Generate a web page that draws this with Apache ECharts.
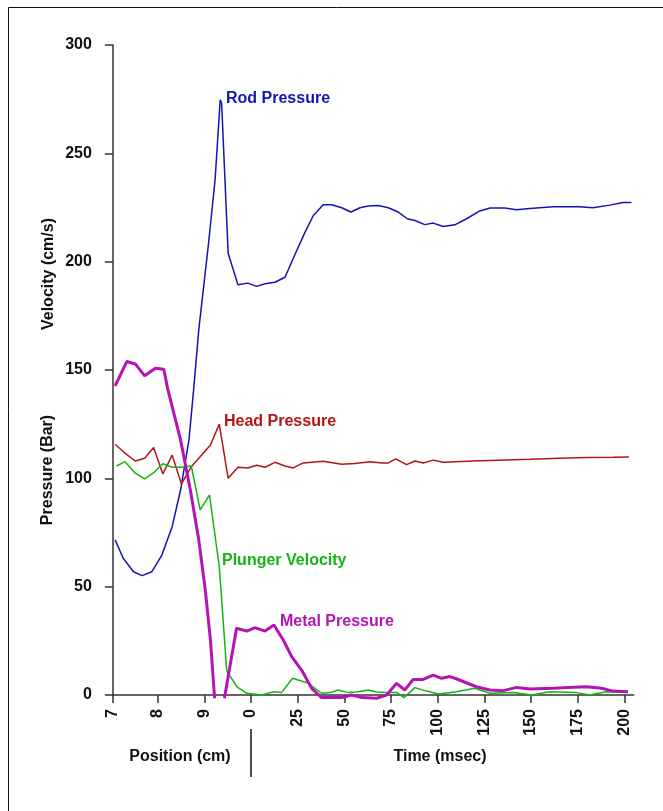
<!DOCTYPE html>
<html>
<head>
<meta charset="utf-8">
<script src="https://cdn.jsdelivr.net/npm/echarts@6/dist/echarts.min.js"></script>
<style>
html,body{margin:0;padding:0;background:#fff;}
#c{width:663px;height:811px;}
</style>
</head>
<body>
<div id="c"></div>
<script>
// ---- tick labels ----
const positionTicks = [7, 8, 9];                 // cm
const timeTicks = [0, 25, 50, 75, 100, 125, 150, 175, 200]; // msec
const yTicks = [0, 50, 100, 150, 200, 250, 300];

// ---- Rod Pressure ----
const rodPos   = [7.05, 7.23, 7.46, 7.65, 7.87, 8.09, 8.31, 8.49, 8.67, 8.77, 8.88, 9.09, 9.23, 9.34, 9.37, 9.51, 9.72, 9.93];
const rodPosV  = [71.6, 63.1, 56.9, 55.1, 56.9, 64.6, 77.7, 94.6, 117.7, 140.8, 168.5, 208.5, 237.8, 274.7, 273.2, 203.9, 189.3, 190.1];
const rodTime  = [3, 7.5, 12.8, 18.2, 23.6, 28.9, 33.4, 38.7, 43.2, 48.6, 53.5, 58.4, 62.8, 68.2, 73.5, 78.9, 83.7, 87.8, 93.1, 97.6, 102.9, 109.2, 115.5, 122.6, 128, 136, 142.3, 149.4, 161.8, 176.1, 183.2, 192.2, 199.3, 203.8];
const rodTimeV = [188.6, 189.8, 190.5, 192.8, 203.4, 213.5, 221.3, 226.3, 226.3, 224.9, 222.9, 224.9, 225.7, 225.9, 224.9, 222.9, 219.8, 219.0, 217.1, 217.8, 216.2, 217.0, 219.8, 223.4, 224.8, 224.8, 224.0, 224.5, 225.3, 225.3, 224.9, 226.1, 227.3, 227.3];

// ---- Head Pressure ----
const headPos   = [7.05, 7.27, 7.5, 7.71, 7.91, 8.11, 8.31, 8.51, 8.72, 8.91, 9.13, 9.32, 9.51, 9.72, 9.93];
const headPosV  = [115.7, 111.6, 108, 109.3, 114.2, 102, 110.7, 97.4, 105.4, 110, 115.4, 125, 100, 105.1, 104.8];
const headTime  = [3, 7.5, 12.8, 18.2, 22.6, 28, 38.7, 48.6, 55.7, 63.7, 70, 73.5, 77.5, 83.4, 87.8, 92.3, 97.6, 102.9, 119, 149.4, 165.4, 179.7, 193.9, 202.5];
const headTimeV = [106, 105.1, 107.4, 105.7, 104.8, 107.1, 107.9, 106.5, 106.8, 107.7, 107.1, 107.1, 109, 106.3, 108, 107.1, 108.4, 107.4, 108, 108.8, 109.3, 109.6, 109.7, 109.9];

// ---- Plunger Velocity ----
const plungerPos   = [7.08, 7.27, 7.5, 7.71, 7.91, 8.11, 8.31, 8.51, 8.72, 8.91, 9.11, 9.32, 9.48, 9.70, 9.91];
const plungerPosV  = [105.7, 107.7, 102.4, 99.7, 102.6, 106.7, 105.1, 105.1, 105.7, 85.4, 92.3, 59.2, 11.0, 3.8, 0.8];
const plungerTime  = [5.7, 12, 16.4, 22.3, 30.7, 37.8, 42.3, 46.7, 52.1, 56.6, 62.8, 67.3, 72.6, 78, 81.9, 87.8, 94.1, 100.3, 110.1, 119.9, 128, 140.5, 150.3, 160, 174.5, 181.5, 190.4, 201.1];
const plungerTimeV = [0, 1.5, 1.2, 7.7, 5.4, 0.8, 1.1, 2.3, 1.1, 1.4, 2.3, 1.4, 1.2, 1.2, -1.2, 3.4, 1.8, 0.5, 1.5, 3.1, 0.8, 1.1, 0, 1.5, 1.1, 0, 1.5, 1.2];

// ---- Metal Pressure (null = trace leaves the plot) ----
const metalPos   = [7.05, 7.31, 7.5, 7.71, 7.95, 8.13, 8.22, 8.49, 8.70, 8.88, 9.02, 9.13, 9.22, 9.32, 9.43, 9.69, 9.91];
const metalPosV  = [142.7, 153.9, 152.8, 147.3, 150.8, 150.4, 140.8, 117.7, 94.6, 71.6, 48.5, 25.4, -1.5, null, -1.5, 30.8, 29.5];
const metalTime  = [2.1, 7.5, 12.3, 17.3, 21.8, 27.1, 32.5, 37.8, 48.6, 53.9, 59.3, 67.3, 72.6, 78, 82.4, 86.9, 92.2, 97.6, 102.1, 106.5, 110, 120.7, 128, 135.2, 142.3, 149.4, 161.9, 170, 179.7, 187.8, 194, 202];
const metalTimeV = [31.1, 29.5, 32.3, 25.4, 17.7, 11.5, 3.1, -1.2, -1.2, 0, -1.2, -1.5, 0, 5.4, 2.3, 7.2, 7.2, 9.2, 7.7, 8.5, 7.5, 3.8, 2.3, 2.0, 3.5, 2.8, 3.1, 3.5, 3.8, 3.1, 1.8, 1.5];

// combined x axis: position (cm) segment placed before time (msec) segment
function posToAxis(p) { return p < 8 ? -74 + (p - 7) * 24 : (p - 10) * 25; }
function build(pos, posV, time, timeV) {
  const out = [];
  pos.forEach((p, i) => out.push([posToAxis(p), posV[i] === null ? '-' : posV[i]]));
  time.forEach((t, i) => out.push([t, timeV[i]]));
  return out;
}

const labelMap = {};
positionTicks.forEach(p => { labelMap[posToAxis(p)] = String(p); });
timeTicks.forEach(t => { labelMap[t] = String(t); });
const xTickValues = positionTicks.map(posToAxis).concat(timeTicks);

const C_ROD = '#1414b4', C_HEAD = '#b41414', C_PL = '#14b414', C_MET = '#b414b4';
const FONT = 'Liberation Sans, Arial, sans-serif';

const chart = echarts.init(document.getElementById('c'), null, {renderer: 'canvas'});
const left = 112.9, scale = 1.8665;
chart.setOption({
  animation: false,
  backgroundColor: '#fff',
  grid: {left: left, top: 45, width: 279 * scale, height: 650},
  xAxis: {
    type: 'value', min: -74, max: 205,
    splitLine: {show: false},
    axisLine: {onZero: false, lineStyle: {color: '#333', width: 1.5}},
    axisTick: {show: true, length: 8, customValues: xTickValues, lineStyle: {color: '#333', width: 1.5}},
    axisLabel: {customValues: xTickValues, rotate: 90, margin: 14, color: '#111',
      fontFamily: FONT, fontWeight: 'bold', fontSize: 16,
      formatter: v => labelMap[v] !== undefined ? labelMap[v] : ''}
  },
  yAxis: {
    type: 'value', min: 0, max: 300, interval: 50,
    splitLine: {show: false},
    axisLine: {show: true, onZero: false, lineStyle: {color: '#333', width: 1.5}},
    axisTick: {show: true, length: 8, lineStyle: {color: '#333', width: 1.5}},
    axisLabel: {margin: 21, color: '#111', fontFamily: FONT, fontWeight: 'bold', fontSize: 16}
  },
  series: [
    {type: 'line', name: 'Rod Pressure', data: build(rodPos, rodPosV, rodTime, rodTimeV), showSymbol: false, clip: false,
      lineStyle: {color: C_ROD, width: 1.5}, itemStyle: {color: C_ROD}},
    {type: 'line', name: 'Head Pressure', data: build(headPos, headPosV, headTime, headTimeV), showSymbol: false, clip: false,
      lineStyle: {color: C_HEAD, width: 1.5}, itemStyle: {color: C_HEAD}},
    {type: 'line', name: 'Plunger Velocity', data: build(plungerPos, plungerPosV, plungerTime, plungerTimeV), showSymbol: false, clip: false,
      lineStyle: {color: C_PL, width: 1.5}, itemStyle: {color: C_PL}},
    {type: 'line', name: 'Metal Pressure', data: build(metalPos, metalPosV, metalTime, metalTimeV), showSymbol: false, clip: false,
      connectNulls: false, lineStyle: {color: C_MET, width: 3}, itemStyle: {color: C_MET}}
  ],
  graphic: [
    {type: 'rect', shape: {x: 8.5, y: 7.5, width: 700, height: 900}, style: {fill: 'none', stroke: '#111', lineWidth: 1}, z: -1},
    {type: 'text', x: 49, y: 274, rotation: Math.PI / 2, style: {text: 'Velocity (cm/s)', fill: '#111', font: 'bold 16px ' + FONT, textAlign: 'center', textVerticalAlign: 'middle'}},
    {type: 'text', x: 48, y: 470, rotation: Math.PI / 2, style: {text: 'Pressure (Bar)', fill: '#111', font: 'bold 16px ' + FONT, textAlign: 'center', textVerticalAlign: 'middle'}},
    {type: 'text', x: 180, y: 757, style: {text: 'Position (cm)', fill: '#111', font: 'bold 16px ' + FONT, textAlign: 'center', textVerticalAlign: 'middle'}},
    {type: 'text', x: 440, y: 757, style: {text: 'Time (msec)', fill: '#111', font: 'bold 16px ' + FONT, textAlign: 'center', textVerticalAlign: 'middle'}},
    {type: 'line', shape: {x1: 251, y1: 729, x2: 251, y2: 777}, style: {stroke: '#111', lineWidth: 1.5}},
    {type: 'text', x: 226, y: 99, style: {text: 'Rod Pressure', fill: C_ROD, font: 'bold 16px ' + FONT, textVerticalAlign: 'middle'}},
    {type: 'text', x: 224, y: 422, style: {text: 'Head Pressure', fill: C_HEAD, font: 'bold 16px ' + FONT, textVerticalAlign: 'middle'}},
    {type: 'text', x: 222, y: 561, style: {text: 'Plunger Velocity', fill: C_PL, font: 'bold 16px ' + FONT, textVerticalAlign: 'middle'}},
    {type: 'text', x: 280, y: 622, style: {text: 'Metal Pressure', fill: C_MET, font: 'bold 16px ' + FONT, textVerticalAlign: 'middle'}}
  ]
});
</script>
</body>
</html>
